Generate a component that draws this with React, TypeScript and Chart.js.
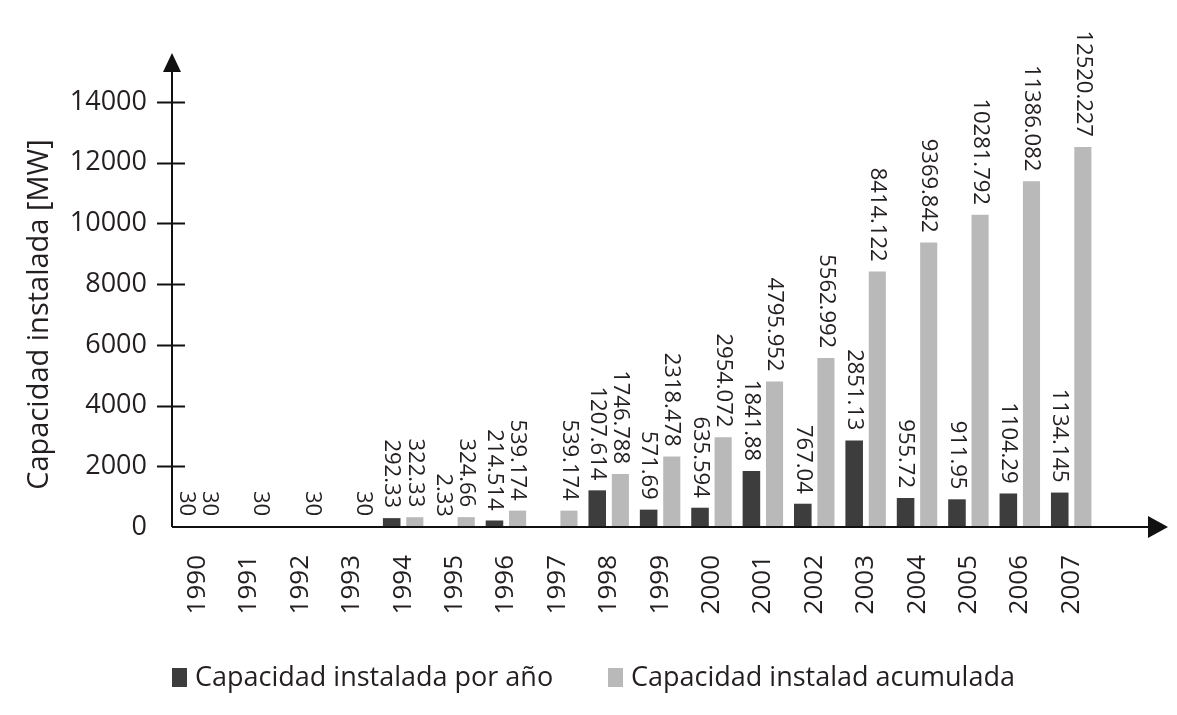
import React, { useEffect, useRef } from "react";
import { Chart, registerables } from "chart.js";

Chart.register(...registerables);

const years = ["1990", "1991", "1992", "1993", "1994", "1995", "1996", "1997", "1998", "1999", "2000", "2001", "2002", "2003", "2004", "2005", "2006", "2007"];
const annualValues = [30, null, null, null, 292.33, 2.33, 214.514, null, 1207.614, 571.69, 635.594, 1841.88, 767.04, 2851.13, 955.72, 911.95, 1104.29, 1134.145];
const cumulativeValues = [30, 30, 30, 30, 322.33, 324.66, 539.174, 539.174, 1746.788, 2318.478, 2954.072, 4795.952, 5562.992, 8414.122, 9369.842, 10281.792, 11386.082, 12520.227];
const seriesNames = ["Capacidad instalada por año", "Capacidad instalad acumulada"];
const yTickStep = 2000;
const yMax = 14000;
const yTitle = "Capacidad instalada [MW]";

const FONT = "'Open Sans', 'Noto Sans', sans-serif";
const TEXT = "#231f20";
const DARK = "#3d3d3d";
const LIGHT = "#b9b9b9";
const W = 1161;
const H = 699;

const decorPlugin = {
  id: "decor",
  afterDatasetsDraw(chart: any) {
    const { ctx, chartArea } = chart;
    const yScale = chart.scales.y;
    ctx.save();
    // value labels
    ctx.font = `22px ${FONT}`;
    ctx.fillStyle = TEXT;
    chart.data.datasets.forEach((ds: any, di: number) => {
      const meta = chart.getDatasetMeta(di);
      meta.data.forEach((el: any, i: number) => {
        const v = ds.data[i];
        if (v === null || v === undefined) return;
        ctx.save();
        ctx.translate(el.x, el.y - 10);
        ctx.rotate(Math.PI / 2);
        ctx.textAlign = "right";
        ctx.textBaseline = "middle";
        ctx.fillText(String(v), 0, 0);
        ctx.restore();
      });
    });
    // axes
    ctx.strokeStyle = "#111";
    ctx.fillStyle = "#111";
    ctx.lineWidth = 2;
    const left = chartArea.left;
    const bottom = chartArea.bottom;
    ctx.beginPath();
    ctx.moveTo(left, bottom);
    ctx.lineTo(left, 58);
    ctx.moveTo(left, bottom);
    ctx.lineTo(W - 14, bottom);
    ctx.stroke();
    // y arrow
    ctx.beginPath();
    ctx.moveTo(left, 45);
    ctx.lineTo(left - 9, 64);
    ctx.lineTo(left + 9, 64);
    ctx.closePath();
    ctx.fill();
    // x arrow
    ctx.beginPath();
    ctx.moveTo(W - 1, bottom);
    ctx.lineTo(W - 21, bottom - 11);
    ctx.lineTo(W - 21, bottom + 11);
    ctx.closePath();
    ctx.fill();
    // tick crosses
    yScale.ticks.forEach((t: any) => {
      if (t.value === 0) return;
      const py = Math.round(yScale.getPixelForValue(t.value)) + 0.5;
      ctx.beginPath();
      ctx.moveTo(left - 15, py);
      ctx.lineTo(left + 13, py);
      ctx.stroke();
    });
    // legend
    const colors = [DARK, LIGHT];
    const boxX = [164, 600];
    ctx.font = `27px ${FONT}`;
    ctx.textAlign = "left";
    ctx.textBaseline = "middle";
    seriesNames.forEach((name, i) => {
      ctx.fillStyle = colors[i];
      ctx.fillRect(boxX[i], 660, 15, 19);
      ctx.fillStyle = TEXT;
      ctx.fillText(name, boxX[i] + 23, 670);
    });
    ctx.restore();
  },
};

export default function App() {
  const ref = useRef<HTMLCanvasElement | null>(null);
  useEffect(() => {
    if (!ref.current) return;
    const chart = new Chart(ref.current, {
      type: "bar",
      data: {
        labels: years,
        datasets: [
          {
            label: seriesNames[0],
            data: annualValues,
            backgroundColor: DARK,
            categoryPercentage: 0.9,
            barPercentage: 0.76,
          },
          {
            label: seriesNames[1],
            data: cumulativeValues,
            backgroundColor: LIGHT,
            categoryPercentage: 0.9,
            barPercentage: 0.74,
          },
        ],
      },
      options: {
        responsive: false,
        animation: false,
        devicePixelRatio: 1,
        layout: { padding: { left: 0, top: 94, right: 72, bottom: 0 } },
        plugins: {
          legend: { display: false },
          tooltip: { enabled: false },
        },
        scales: {
          x: {
            grid: { display: false, drawTicks: false },
            border: { display: false },
            ticks: {
              minRotation: 90,
              maxRotation: 90,
              padding: 28,
              color: TEXT,
              font: { family: FONT, size: 26 },
            },
            afterFit: (s: any) => {
              s.height = 180;
            },
          },
          y: {
            min: 0,
            max: yMax,
            grid: { display: false, drawTicks: false },
            border: { display: false },
            ticks: {
              stepSize: yTickStep,
              padding: 25,
              color: TEXT,
              font: { family: FONT, size: 27 },
              callback: (v: any) => String(v),
            },
            title: {
              display: true,
              text: yTitle,
              color: TEXT,
              font: { family: FONT, size: 29 },
              padding: { top: 14, bottom: 0 },
            },
            afterFit: (s: any) => {
              s.width = 164;
            },
          },
        },
      },
      plugins: [decorPlugin],
    });
    return () => chart.destroy();
  }, []);
  return (
    <div style={{ width: W, height: H }}>
      <canvas ref={ref} width={W} height={H} style={{ display: "block" }} />
    </div>
  );
}
